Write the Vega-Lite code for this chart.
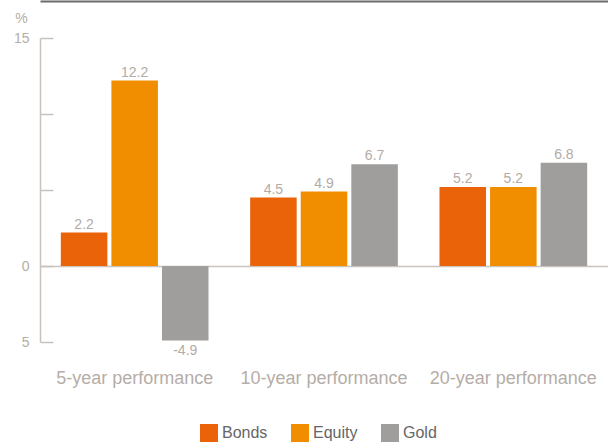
{
  "$schema": "https://vega.github.io/schema/vega-lite/v6.json",
  "autosize": {"type": "none"},
  "padding": {"left": 40, "top": 38, "right": 0, "bottom": 100},
  "width": 568,
  "height": 304,
  "background": "white",
  "config": {
    "view": {"stroke": null},
    "font": "Liberation Sans"
  },
  "data": {
    "values": [
      {"period": "5-year performance", "asset": "Bonds", "value": 2.2},
      {"period": "5-year performance", "asset": "Equity", "value": 12.2},
      {"period": "5-year performance", "asset": "Gold", "value": -4.9},
      {"period": "10-year performance", "asset": "Bonds", "value": 4.5},
      {"period": "10-year performance", "asset": "Equity", "value": 4.9},
      {"period": "10-year performance", "asset": "Gold", "value": 6.7},
      {"period": "20-year performance", "asset": "Bonds", "value": 5.2},
      {"period": "20-year performance", "asset": "Equity", "value": 5.2},
      {"period": "20-year performance", "asset": "Gold", "value": 6.8}
    ]
  },
  "resolve": {"axis": {"x": "independent"}},
  "encoding": {
    "x": {
      "field": "period",
      "type": "nominal",
      "sort": ["5-year performance", "10-year performance", "20-year performance"],
      "scale": {"paddingInner": 0.22, "paddingOuter": 0.11},
      "axis": {
        "title": null,
        "domain": false,
        "ticks": false,
        "labelAngle": 0,
        "labelPadding": 27,
        "labelFontSize": 18,
        "labelColor": "#b5ada7"
      }
    },
    "xOffset": {
      "field": "asset",
      "type": "nominal",
      "sort": ["Bonds", "Equity", "Gold"],
      "scale": {"paddingInner": 0.08, "paddingOuter": 0}
    },
    "y": {
      "field": "value",
      "type": "quantitative",
      "scale": {"domain": [-5, 15], "nice": false, "zero": false},
      "axis": {
        "title": "%",
        "titleAngle": 0,
        "titleX": -19,
        "titleY": -20,
        "titleAlign": "center",
        "titleBaseline": "middle",
        "titleFontSize": 14,
        "titleFontWeight": "normal",
        "titleColor": "#b5ada7",
        "values": [-5, 0, 5, 10, 15],
        "labelExpr": "datum.value == 15 ? '15' : datum.value == 0 ? '0' : datum.value == -5 ? '5' : ''",
        "labelFontSize": 14,
        "labelColor": "#b5ada7",
        "labelPadding": 24,
        "tickSize": -13,
        "tickColor": "#c9c1bb",
        "tickWidth": 1.5,
        "domainColor": "#c9c1bb",
        "domainWidth": 1.5,
        "grid": true,
        "gridColor": "#cbc3bd",
        "gridWidth": 1.5,
        "gridOpacity": {"condition": {"test": "datum.value === 0", "value": 1}, "value": 0}
      }
    }
  },
  "layer": [
    {
      "mark": {"type": "bar"},
      "encoding": {
        "color": {
          "field": "asset",
          "type": "nominal",
          "sort": ["Bonds", "Equity", "Gold"],
          "scale": {"domain": ["Bonds", "Equity", "Gold"], "range": ["#ea6309", "#f18e00", "#9f9e9c"]},
          "legend": {
            "title": null,
            "orient": "none",
            "direction": "horizontal",
            "legendX": 160,
            "legendY": 386,
            "symbolType": "square",
            "symbolSize": 324,
            "symbolStrokeWidth": 0,
            "symbolOpacity": 1,
            "labelFontSize": 16,
            "labelColor": "#666666",
            "labelOffset": 4,
            "columnPadding": 23
          }
        }
      }
    },
    {
      "transform": [{"filter": "datum.value >= 0"}],
      "mark": {"type": "text", "baseline": "alphabetic", "dy": -4, "fontSize": 14, "color": "#b3aba5"},
      "encoding": {
        "x": {
          "field": "period",
          "type": "nominal",
          "sort": ["5-year performance", "10-year performance", "20-year performance"],
          "axis": null
        },
        "text": {"field": "value", "type": "nominal"}
      }
    },
    {
      "transform": [{"filter": "datum.value < 0"}],
      "mark": {"type": "text", "baseline": "top", "dy": 4, "fontSize": 14, "color": "#b3aba5"},
      "encoding": {
        "x": {
          "field": "period",
          "type": "nominal",
          "sort": ["5-year performance", "10-year performance", "20-year performance"],
          "axis": {
            "orient": "top",
            "offset": 37,
            "title": null,
            "labels": false,
            "ticks": false,
            "domain": true,
            "domainColor": "#6b6b6b",
            "domainWidth": 2
          }
        },
        "text": {"field": "value", "type": "nominal"}
      }
    }
  ]
}
